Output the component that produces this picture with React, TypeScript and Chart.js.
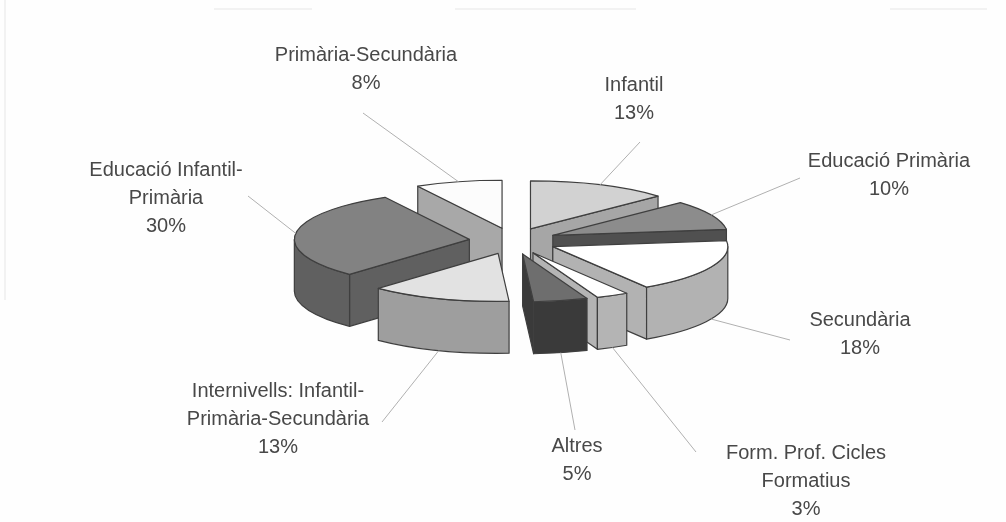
import React, { useEffect, useRef } from "react";
import { Chart, registerables } from "chart.js";

Chart.register(...registerables);

const categories = [
  ["Infantil"],
  ["Educació Primària"],
  ["Secundària"],
  ["Form. Prof. Cicles", "Formatius"],
  ["Altres"],
  ["Internivells: Infantil-", "Primària-Secundària"],
  ["Educació Infantil-", "Primària"],
  ["Primària-Secundària"],
];
const values = [13, 10, 18, 3, 5, 13, 30, 8];
const topColors = ["#d2d2d2", "#8c8c8c", "#ffffff", "#ffffff", "#6e6e6e", "#e2e2e2", "#828282", "#fcfcfc"];
const wallColors = ["#a6a6a6", "#505050", "#b2b2b2", "#b4b4b4", "#3a3a3a", "#9e9e9e", "#606060", "#a8a8a8"];
const labelCentres = [
  [634, 85], [889, 161], [860, 320], [806, 453], [577, 446], [278, 391], [166, 170], [366, 55],
];
const leaderEnds = [
  [640, 142], [800, 178], [790, 340], [696, 452], [575, 430], [382, 422], [248, 196], [363, 113],
];
const scanLines = [
  [214, 9, 312, 9], [455, 9, 636, 9], [890, 9, 987, 9], [5, 0, 5, 300],
];

const TILT = 0.274;
const DEPTH = 52;
const EXPLODE = 44;
const RADIUS = 175;
const EDGE = "#3f3f3f";
const LINE_HEIGHT = 28;

function slicePlace(arc: any) {
  const mid = (arc.startAngle + arc.endAngle) / 2;
  return {
    mid,
    cx: arc.x + Math.cos(mid) * EXPLODE,
    cy: arc.y + Math.sin(mid) * EXPLODE * 0.3,
    rx: arc.outerRadius,
    ry: arc.outerRadius * TILT,
  };
}

function fillStroke(ctx: CanvasRenderingContext2D, color: string) {
  ctx.fillStyle = color;
  ctx.fill();
  ctx.strokeStyle = EDGE;
  ctx.lineWidth = 1.2;
  ctx.stroke();
}

function radialFace(ctx: CanvasRenderingContext2D, p: any, angle: number, color: string) {
  const ex = p.cx + Math.cos(angle) * p.rx;
  const ey = p.cy + Math.sin(angle) * p.ry;
  ctx.beginPath();
  ctx.moveTo(p.cx, p.cy);
  ctx.lineTo(ex, ey);
  ctx.lineTo(ex, ey + DEPTH);
  ctx.lineTo(p.cx, p.cy + DEPTH);
  ctx.closePath();
  fillStroke(ctx, color);
}

const pie3d = {
  id: "pie3d",
  beforeDatasetDraw(chart: any, args: any) {
    const ctx: CanvasRenderingContext2D = chart.ctx;
    const arcs: any[] = args.meta.data;

    const order = arcs
      .map((_, i) => i)
      .sort((a, b) => slicePlace(arcs[a]).cy - slicePlace(arcs[b]).cy);

    ctx.save();
    ctx.lineJoin = "round";
    for (const i of order) {
      const arc = arcs[i];
      const p = slicePlace(arc);
      const a = arc.startAngle;
      const b = arc.endAngle;
      if (-Math.cos(a) > 0) radialFace(ctx, p, a, wallColors[i]);
      if (Math.cos(b) > 0) radialFace(ctx, p, b, wallColors[i]);
      // outer wall, only the part of the rim turned to the viewer
      const ranges = [
        [Math.max(a, 0), Math.min(b, Math.PI)],
        [Math.max(a, 2 * Math.PI), Math.min(b, 3 * Math.PI)],
      ];
      for (const [s, e] of ranges) {
        if (e <= s) continue;
        ctx.beginPath();
        ctx.ellipse(p.cx, p.cy, p.rx, p.ry, 0, s, e);
        ctx.ellipse(p.cx, p.cy + DEPTH, p.rx, p.ry, 0, e, s, true);
        ctx.closePath();
        fillStroke(ctx, wallColors[i]);
      }
    }
    ctx.restore();

    arcs.forEach((arc) => {
      const p = slicePlace(arc);
      ctx.save();
      ctx.translate(p.cx, p.cy);
      ctx.scale(1, TILT);
      ctx.translate(-arc.x, -arc.y);
      arc.draw(ctx);
      ctx.restore();
      ctx.save();
      ctx.beginPath();
      ctx.moveTo(p.cx, p.cy);
      ctx.ellipse(p.cx, p.cy, p.rx, p.ry, 0, arc.startAngle, arc.endAngle);
      ctx.closePath();
      ctx.strokeStyle = EDGE;
      ctx.lineWidth = 1.2;
      ctx.lineJoin = "round";
      ctx.stroke();
      ctx.restore();
    });
    return false;
  },
  afterDatasetsDraw(chart: any) {
    const ctx: CanvasRenderingContext2D = chart.ctx;
    const arcs: any[] = chart.getDatasetMeta(0).data;
    ctx.save();
    ctx.strokeStyle = "#b0b0b0";
    ctx.lineWidth = 1;
    arcs.forEach((arc, i) => {
      const p = slicePlace(arc);
      const ax = p.cx + Math.cos(p.mid) * p.rx;
      const front = Math.sin(p.mid) > 0;
      const ay = p.cy + Math.sin(p.mid) * p.ry + (front ? DEPTH : 0);
      ctx.beginPath();
      ctx.moveTo(ax, ay);
      ctx.lineTo(leaderEnds[i][0], leaderEnds[i][1]);
      ctx.stroke();
    });
    ctx.strokeStyle = "#e6e6e6";
    scanLines.forEach(([x1, y1, x2, y2]) => {
      ctx.beginPath();
      ctx.moveTo(x1, y1);
      ctx.lineTo(x2, y2);
      ctx.stroke();
    });
    ctx.fillStyle = "#484848";
    ctx.font = '20px "Liberation Sans"';
    ctx.textAlign = "center";
    ctx.textBaseline = "middle";
    arcs.forEach((_, i) => {
      const lines = [...categories[i], `${values[i]}%`];
      lines.forEach((line, j) => {
        ctx.fillText(line, labelCentres[i][0], labelCentres[i][1] + j * LINE_HEIGHT);
      });
    });
    ctx.restore();
  },
};

export default function App() {
  const ref = useRef<HTMLCanvasElement>(null);
  useEffect(() => {
    const chart = new Chart(ref.current!, {
      type: "pie",
      data: {
        labels: categories.map((c) => c.join(" ")),
        datasets: [
          {
            data: values,
            backgroundColor: topColors,
            borderWidth: 0,
            radius: RADIUS,
          } as any,
        ],
      },
      options: {
        responsive: false,
        animation: false,
        radius: RADIUS,
        layout: { padding: { left: 20, right: 0, top: 0, bottom: 40 } },
        plugins: { legend: { display: false }, tooltip: { enabled: false }, title: { display: false } },
      } as any,
      plugins: [pie3d],
    });
    return () => chart.destroy();
  }, []);
  return (
    <canvas
      ref={ref}
      width={1006}
      height={522}
      style={{ position: "absolute", left: 0, top: 0, width: 1006, height: 522, background: "#fefefe", filter: "blur(0.5px)" }}
    />
  );
}
